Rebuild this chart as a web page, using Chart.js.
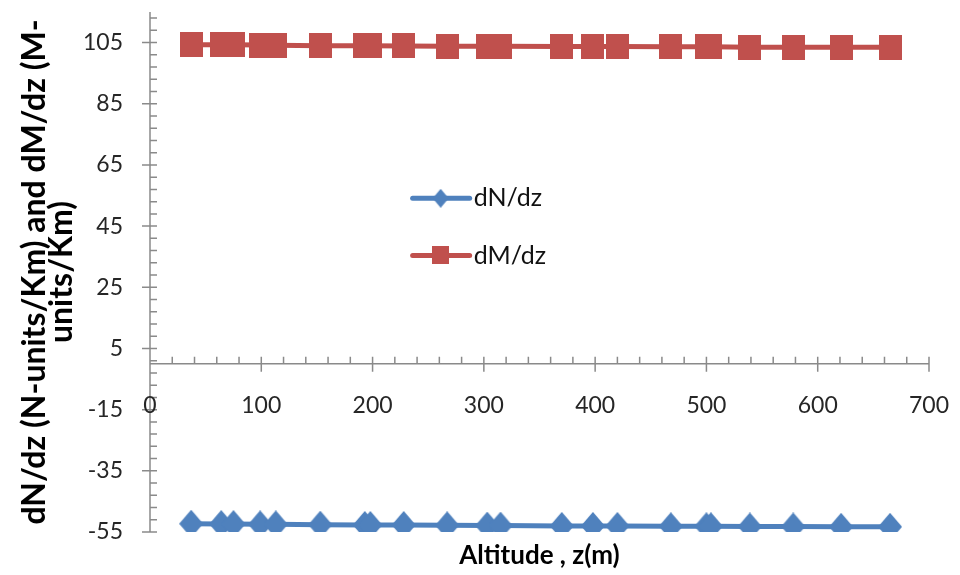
<!DOCTYPE html>
<html><head><meta charset="utf-8">
<script src="https://cdn.jsdelivr.net/npm/chart.js@4.4.1/dist/chart.umd.min.js"></script>
<style>html,body{margin:0;padding:0;background:#fff;}#wrap{width:960px;height:575px;}</style>
</head><body><div id="wrap"><canvas id="c" width="960" height="575"></canvas></div>
<script>
// ---- data ----
const altitude = [37, 64, 75, 99, 113, 153, 193, 198, 228, 267, 303, 315, 370, 398, 420, 468, 500, 504, 539, 578, 621, 665];
const dNdz = [-52.3, -52.4, -52.4, -52.5, -52.5, -52.6, -52.7, -52.7, -52.7, -52.8, -52.9, -52.9, -53.0, -53.0, -53.0, -53.1, -53.1, -53.1, -53.2, -53.2, -53.3, -53.3];
const dMdz = [104.3, 104.3, 104.3, 104.2, 104.1, 104.0, 104.0, 104.0, 103.9, 103.8, 103.8, 103.8, 103.7, 103.7, 103.7, 103.6, 103.6, 103.6, 103.5, 103.5, 103.5, 103.5];
const yTickValues = [-55, -35, -15, 5, 25, 45, 65, 85, 105];
const xTickValues = [0, 100, 200, 300, 400, 500, 600, 700];
const seriesNames = ['dN/dz', 'dM/dz'];
const xTitle = 'Altitude , z(m)';
const yTitle = ['dN/dz (N-units/Km) and dM/dz (M-', 'units/Km)'];

const BLUE = '#4F81BD', RED = '#C0504D', AXIS = '#8a8a8a';
const FAMILY = 'Lato, "Open Sans", sans-serif';
const TICK_FONT = '23px ' + FAMILY;

function diamond(w, h, color) {
  const c = document.createElement('canvas'); c.width = w; c.height = h;
  const g = c.getContext('2d'); g.fillStyle = color; g.beginPath();
  g.moveTo(w / 2, 0); g.lineTo(w, h / 2); g.lineTo(w / 2, h); g.lineTo(0, h / 2); g.closePath(); g.fill();
  return c;
}
function square(w, h, color) {
  const c = document.createElement('canvas'); c.width = w; c.height = h;
  const g = c.getContext('2d'); g.fillStyle = color; g.fillRect(0, 0, w, h);
  return c;
}
const markN = diamond(24, 28, BLUE), markM = square(23, 25, RED);
const legN = diamond(16, 19, BLUE), legM = square(17, 18, RED);

const axesPlugin = {
  id: 'crossAxes',
  beforeDatasetsDraw(chart) {
    const { ctx, chartArea: a, scales: { x: xs, y: ys } } = chart;
    const x0 = xs.getPixelForValue(0), y0 = ys.getPixelForValue(0);
    ctx.save();
    ctx.strokeStyle = AXIS; ctx.lineWidth = 1.5;
    ctx.beginPath();
    ctx.moveTo(x0, a.top); ctx.lineTo(x0, a.bottom);
    ctx.moveTo(a.left, y0); ctx.lineTo(a.right, y0);
    const yStep = yTickValues[1] - yTickValues[0], yMinor = yStep / 5;
    for (let v = ys.min; v <= ys.max + 1e-9; v += yMinor) {
      const p = ys.getPixelForValue(v);
      const major = yTickValues.includes(Math.round(v));
      ctx.moveTo(major ? x0 - 8 : x0, p); ctx.lineTo(x0 + 7, p);
    }
    const xStep = xTickValues[1] - xTickValues[0], xMinor = xStep / 5;
    for (let v = xs.min; v <= xs.max + 1e-9; v += xMinor) {
      const p = xs.getPixelForValue(v);
      const major = xTickValues.includes(Math.round(v));
      ctx.moveTo(p, y0 - 7); ctx.lineTo(p, major ? y0 + 8 : y0);
    }
    ctx.stroke();
    ctx.fillStyle = '#262626'; ctx.font = TICK_FONT; ctx.textAlign = 'center'; ctx.textBaseline = 'middle';
    xTickValues.forEach(v => ctx.fillText(String(v), xs.getPixelForValue(v), y0 + 42));
    ctx.restore();
  },
  afterDatasetsDraw(chart) {
    const { ctx, scales: { x: xs, y: ys } } = chart;
    const lx = xs.getPixelForValue(236), rows = [ys.getPixelForValue(54.1), ys.getPixelForValue(35.4)];
    const imgs = [legN, legM];
    ctx.save();
    chart.data.datasets.forEach((ds, i) => {
      const y = rows[i];
      ctx.strokeStyle = ds.borderColor; ctx.lineWidth = 5; ctx.lineCap = 'round';
      ctx.beginPath(); ctx.moveTo(lx, y); ctx.lineTo(lx + 57, y); ctx.stroke();
      const im = imgs[i];
      ctx.drawImage(im, lx + 28 - im.width / 2, y - im.height / 2);
      ctx.fillStyle = '#111'; ctx.font = '25px ' + FAMILY; ctx.textAlign = 'left'; ctx.textBaseline = 'middle';
      ctx.fillText(ds.label, lx + 61, y);
    });
    ctx.restore();
  }
};

new Chart(document.getElementById('c'), {
  type: 'line',
  data: {
    datasets: [
      { label: seriesNames[0], data: altitude.map((x, i) => ({ x, y: dNdz[i] })), borderColor: BLUE, backgroundColor: BLUE,
        borderWidth: 5, pointStyle: markN, pointRadius: 12, tension: 0 },
      { label: seriesNames[1], data: altitude.map((x, i) => ({ x, y: dMdz[i] })), borderColor: RED, backgroundColor: RED,
        borderWidth: 5, pointStyle: markM, pointRadius: 12, tension: 0 }
    ]
  },
  options: {
    responsive: false, animation: false, devicePixelRatio: 1,
    layout: { autoPadding: false, padding: { top: 12, right: 31, left: 0, bottom: 0 } },
    plugins: { legend: { display: false }, tooltip: { enabled: false } },
    scales: {
      x: {
        type: 'linear', min: 0, max: 700,
        grid: { display: false, drawTicks: false }, border: { display: false },
        ticks: { display: false },
        title: { display: true, text: xTitle, color: '#000', font: { family: FAMILY, size: 26, weight: 'bold' }, padding: { top: 0, bottom: 4 } },
        afterFit: s => { s.height = 43; s.paddingLeft = 0; s.paddingRight = 0; }
      },
      y: {
        type: 'linear', min: -55, max: 115,
        afterBuildTicks: s => { s.ticks = yTickValues.map(v => ({ value: v })); },
        grid: { display: false, drawTicks: false }, border: { display: false },
        ticks: { color: '#262626', font: { family: FAMILY, size: 23, lineHeight: 0.5 }, padding: 27 },
        title: { display: true, text: yTitle, color: '#000', font: { family: FAMILY, size: 32, weight: 'bold', lineHeight: 0.85 }, padding: { top: 21, bottom: 0 } },
        afterFit: s => { s.width = 150; s.paddingTop = 0; s.paddingBottom = 0; }
      }
    }
  },
  plugins: [axesPlugin]
});
</script></body></html>
